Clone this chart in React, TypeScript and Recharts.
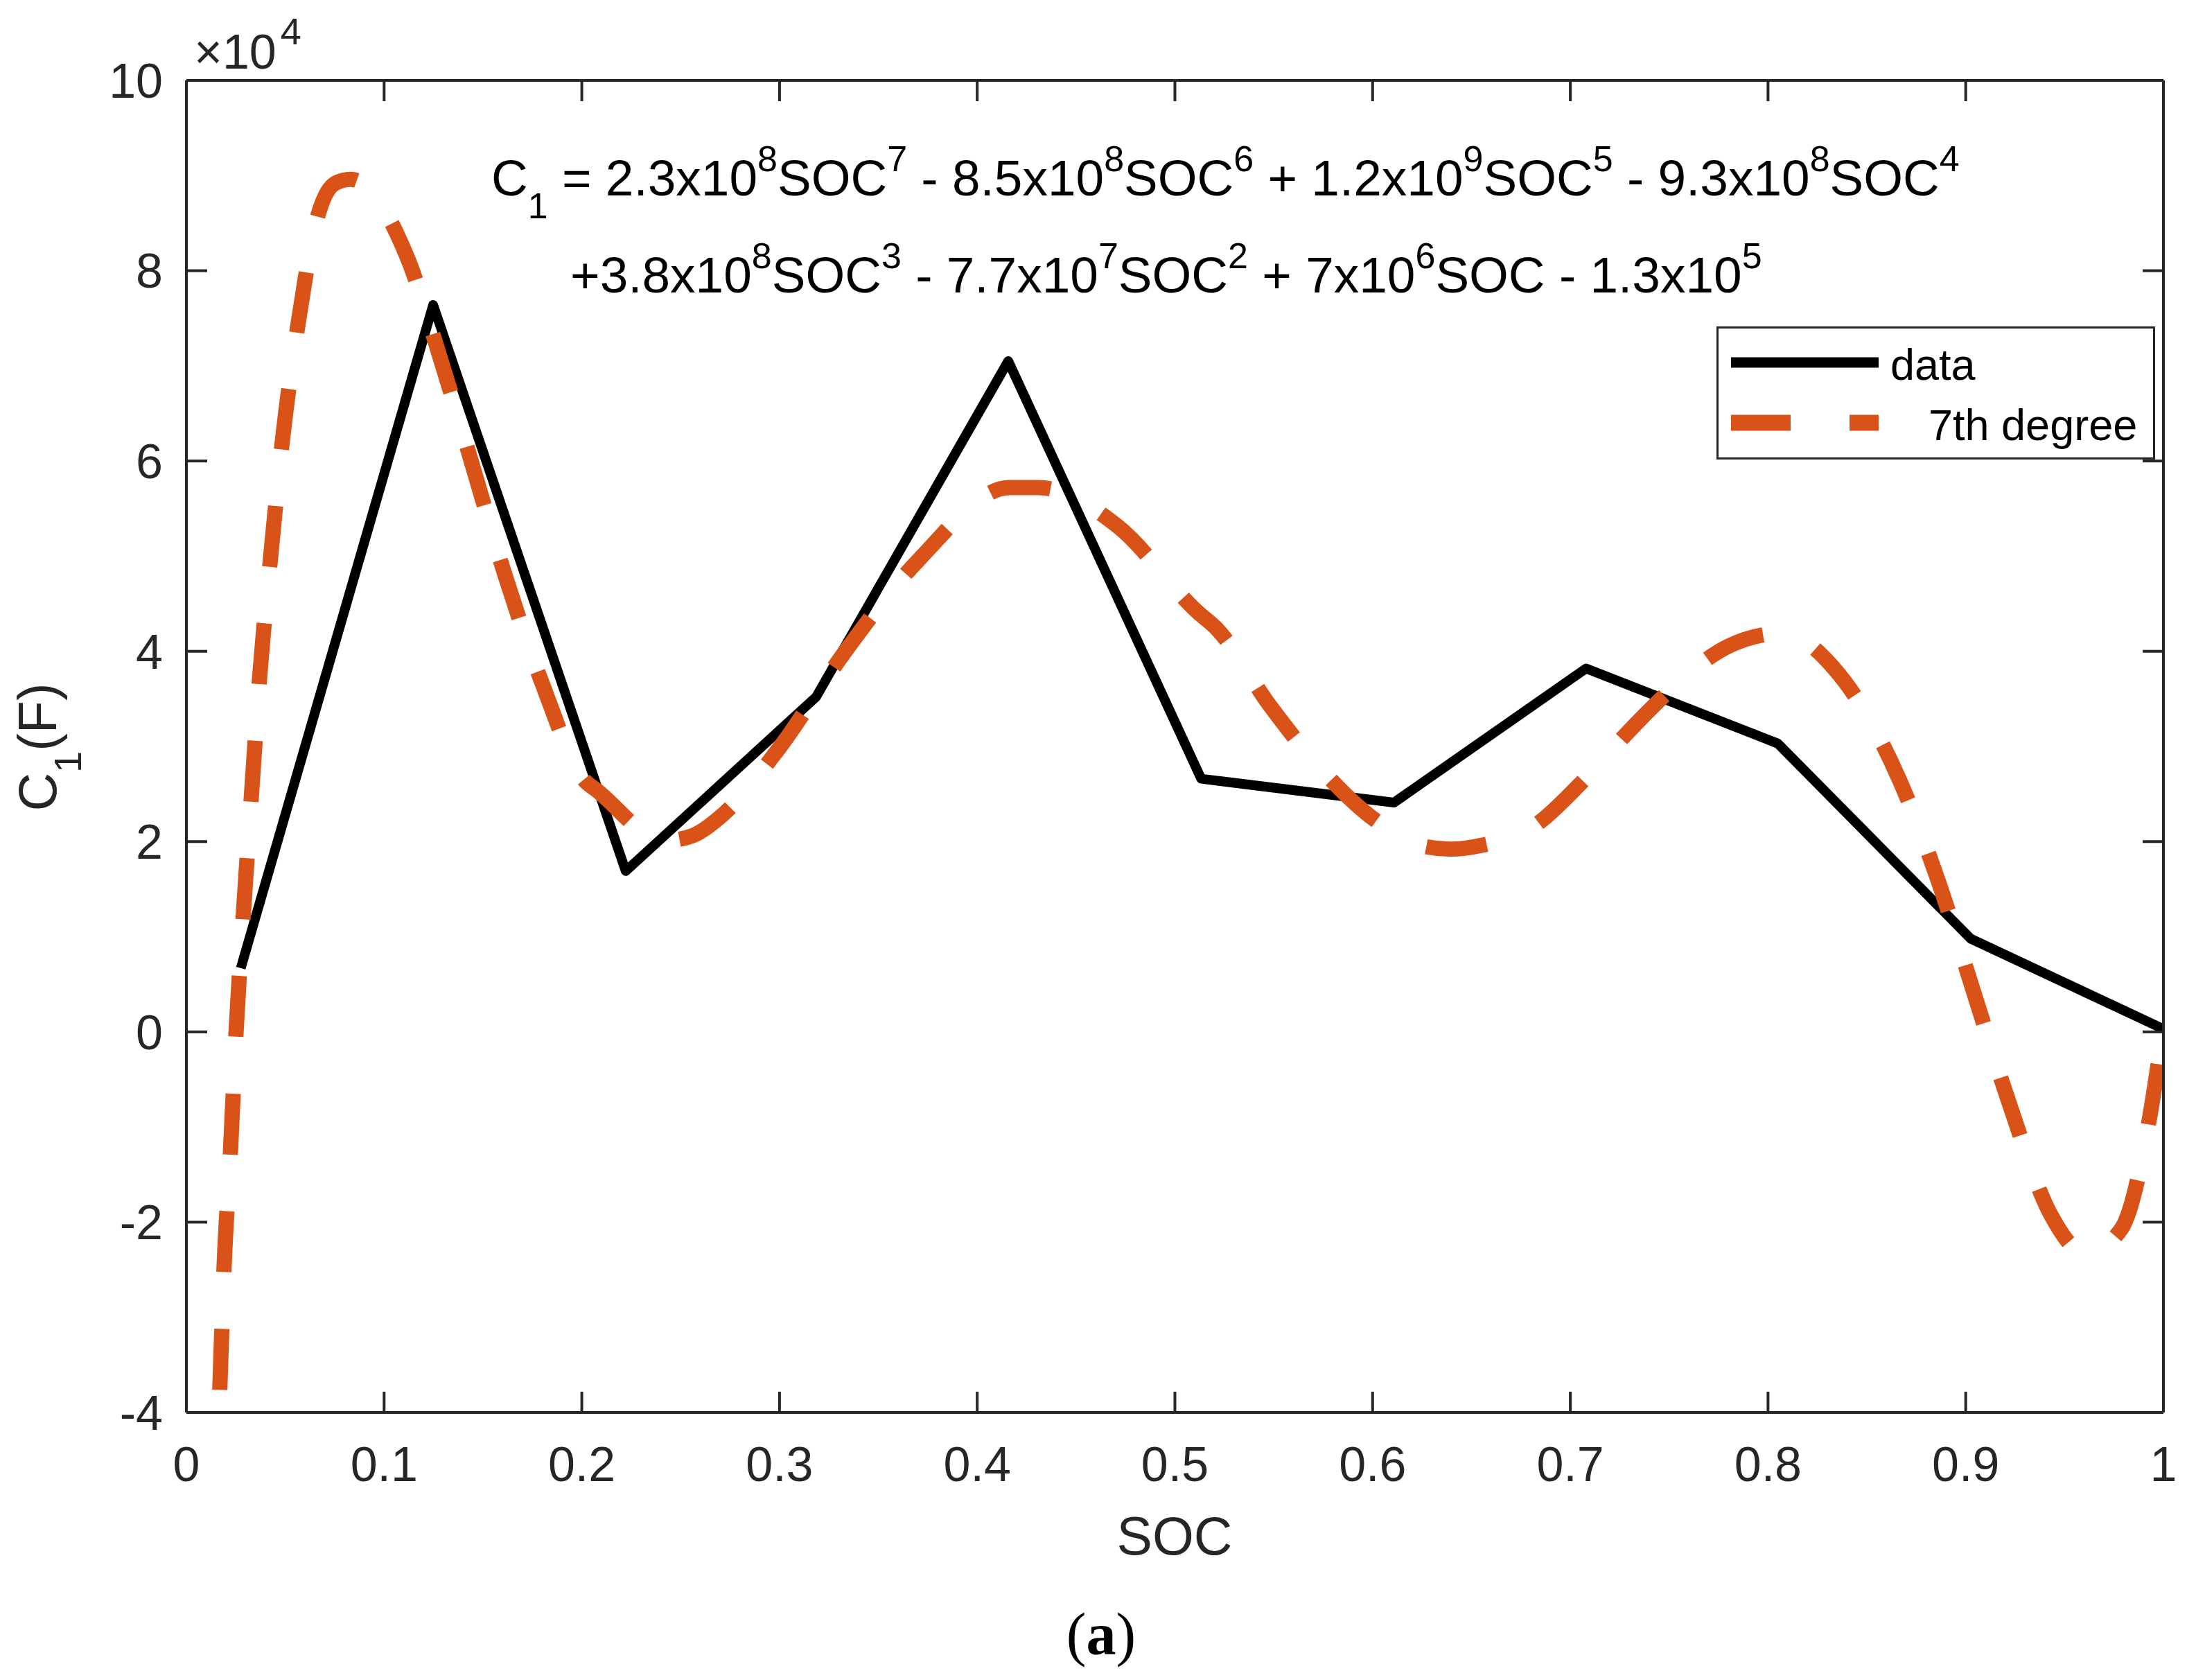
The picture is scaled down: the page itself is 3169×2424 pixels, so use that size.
import React from 'react';
import { LineChart, Line, XAxis, YAxis, Legend, Customized } from 'recharts';

// measured data (black, solid)
const dataSoc = [0.0275, 0.1248, 0.2222, 0.3185, 0.4157, 0.5133, 0.6108, 0.708, 0.805, 0.9025, 1.0];
const dataC1 = [6700, 76400, 16900, 35200, 70500, 26600, 24100, 38200, 30300, 9800, 300];

// 7th degree fit (orange, dashed)
const fitSoc = [
  0.0148, 0.0165, 0.0191, 0.0224, 0.0252, 0.0289, 0.033, 0.0372, 0.0426, 0.0487,
  0.0567, 0.066, 0.0754, 0.083, 0.092, 0.1062, 0.1125, 0.1265, 0.1439, 0.161,
  0.18, 0.2015, 0.2075, 0.2419, 0.2557, 0.2695, 0.299, 0.3326, 0.3708, 0.4164,
  0.431, 0.4707, 0.5116, 0.521, 0.548, 0.574, 0.601, 0.624, 0.6397, 0.655,
  0.68, 0.707, 0.7224, 0.7347, 0.7484, 0.7806, 0.8076, 0.833, 0.866, 0.8857,
  0.904, 0.922, 0.943, 0.9608, 0.9787, 0.9932, 1.0,
];
const fitC1 = [
  -50000, -39900, -24500, -12100, 300, 12700, 25200, 37700, 49900, 62400,
  74700, 85400, 89200, 89600, 88700, 84000, 81000, 72100, 60100, 48100,
  36600, 26400, 25400, 20100, 20600, 22500, 29600, 39800, 49700, 57200,
  57200, 53200, 44100, 42400, 34300, 27600, 22300, 19600, 19200, 19600,
  21400, 26500, 30000, 32700, 35500, 40600, 41900, 38300, 26700, 16100,
  4200, -7500, -19200, -23300, -20700, -8800, 500,
];

const xTicks = [0, 0.1, 0.2, 0.3, 0.4, 0.5, 0.6, 0.7, 0.8, 0.9, 1];
const yTicks = [-40000, -20000, 0, 20000, 40000, 60000, 80000, 100000];

// equation text: [text, 'sup' | 'sub' | undefined]
const eqLine1: [string, string?][] = [
  ['C'], ['1', 'sub'], [' = 2.3x10'], ['8', 'sup'], ['SOC'], ['7', 'sup'],
  [' - 8.5x10'], ['8', 'sup'], ['SOC'], ['6', 'sup'],
  [' + 1.2x10'], ['9', 'sup'], ['SOC'], ['5', 'sup'],
  [' - 9.3x10'], ['8', 'sup'], ['SOC'], ['4', 'sup'],
];
const eqLine2: [string, string?][] = [
  ['+3.8x10'], ['8', 'sup'], ['SOC'], ['3', 'sup'],
  [' - 7.7x10'], ['7', 'sup'], ['SOC'], ['2', 'sup'],
  [' + 7x10'], ['6', 'sup'], ['SOC'],
  [' - 1.3x10'], ['5', 'sup'],
];

const dataRows = dataSoc.map((s, i) => ({ soc: s, c1: dataC1[i] }));
const fitRows = fitSoc.map((s, i) => ({ soc: s, c1: fitC1[i] }));

const W = 3169;
const H = 2424;
const PLOT_L = 269;
const PLOT_R = 3122;
const PLOT_T = 116;
const PLOT_B = 2038;

const AXIS = '#262626';
const AXIS_W = 4;
const TICK_LEN = 30;
const X_MARGIN = 49;
const Y_MARGIN = 34;
const FONT = '"Liberation Sans", Arial, Helvetica, sans-serif';
const ORANGE = '#D95319';

const BottomTick = (props: any) => {
  const { x, y, payload } = props;
  const axisY = y - X_MARGIN;
  return (
    <g>
      <line x1={x} x2={x} y1={axisY} y2={axisY - TICK_LEN} stroke={AXIS} strokeWidth={AXIS_W} />
      <text x={x} y={y} dy="0.71em" textAnchor="middle" fontFamily={FONT} fontSize={70} fill={AXIS}>
        {String(payload.value)}
      </text>
    </g>
  );
};

const LeftTick = (props: any) => {
  const { x, y, payload } = props;
  const axisX = x + Y_MARGIN;
  return (
    <g>
      <line x1={axisX} x2={axisX + TICK_LEN} y1={y} y2={y} stroke={AXIS} strokeWidth={AXIS_W} />
      <text x={x} y={y} dy="0.355em" textAnchor="end" fontFamily={FONT} fontSize={70} fill={AXIS}>
        {String(payload.value / 10000)}
      </text>
    </g>
  );
};

const TopTick = (props: any) => {
  const { x, y } = props;
  return <line x1={x} x2={x} y1={y} y2={y + TICK_LEN} stroke={AXIS} strokeWidth={AXIS_W} />;
};

const RightTick = (props: any) => {
  const { x, y } = props;
  return <line x1={x} x2={x - TICK_LEN} y1={y} y2={y} stroke={AXIS} strokeWidth={AXIS_W} />;
};

const LegendBox = () => (
  <svg width={633} height={192} style={{ display: 'block' }}>
    <rect x={1.5} y={1.5} width={630} height={189} fill="#fff" stroke={AXIS} strokeWidth={3} />
    <line x1={21} x2={234} y1={52} y2={52} stroke="#000" strokeWidth={15} />
    <text x={251} y={77} fontFamily={FONT} fontSize={63} fill="#000">data</text>
    <line x1={21} x2={234} y1={139} y2={139} stroke={ORANGE} strokeWidth={23} strokeDasharray="86 85" />
    <text x={306} y={164} fontFamily={FONT} fontSize={63} fill="#000">7th degree</text>
  </svg>
);

const shiftOf = (kind?: string) => (kind === 'sup' ? -35 : kind === 'sub' ? 33 : 0);

const RichText = ({ parts, x, y, size }: { parts: [string, string?][]; x: number; y: number; size: number }) => {
  let cur = 0;
  return (
    <text x={x} y={y} fontSize={size} fill="#000" style={{ whiteSpace: 'pre' }}>
      {parts.map(([t, kind], i) => {
        const target = shiftOf(kind);
        const dy = target - cur;
        cur = target;
        return (
          <tspan key={i} dy={dy} fontSize={kind ? 52 : size}>
            {t}
          </tspan>
        );
      })}
    </text>
  );
};

const Annotations = () => (
  <g fontFamily={FONT}>
    <text x={280} y={99} fontSize={70} fill={AXIS}>
      ×10<tspan dx={6} dy={-35} fontSize={54}>4</tspan>
    </text>
    <RichText parts={eqLine1} x={709} y={282} size={73} />
    <RichText parts={eqLine2} x={823} y={422} size={73} />
    <text transform="translate(81,1078) rotate(-90)" textAnchor="middle" fontSize={77} fill={AXIS}>
      C<tspan dy={36} fontSize={56}>1</tspan>
      <tspan dy={-36}>(F)</tspan>
    </text>
    <text x={1695} y={2243} textAnchor="middle" fontSize={77} fill={AXIS}>SOC</text>
    <text x={1589} y={2387} textAnchor="middle" fontFamily='"Liberation Serif", "Times New Roman", serif' fontSize={86} fill="#000">
      (<tspan fontWeight="bold">a</tspan>)
    </text>
  </g>
);

export default function App() {
  return (
    <div style={{ position: 'absolute', left: 0, top: 0, width: W, height: H, background: '#fff' }}>
      <LineChart width={W} height={H} margin={{ top: 0, right: 0, bottom: 0, left: 0 }}>
        <XAxis
          xAxisId="bottom"
          dataKey="soc"
          type="number"
          domain={[0, 1]}
          allowDataOverflow
          ticks={xTicks}
          height={H - PLOT_B}
          tickSize={0}
          tickMargin={X_MARGIN}
          tick={<BottomTick />}
          tickLine={false}
          axisLine={{ stroke: AXIS, strokeWidth: AXIS_W }}
          interval={0}
        />
        <XAxis
          xAxisId="top"
          orientation="top"
          dataKey="soc"
          type="number"
          domain={[0, 1]}
          allowDataOverflow
          ticks={xTicks}
          height={PLOT_T}
          tickSize={0}
          tickMargin={0}
          tick={<TopTick />}
          tickLine={false}
          axisLine={{ stroke: AXIS, strokeWidth: AXIS_W }}
          interval={0}
        />
        <YAxis
          yAxisId="left"
          type="number"
          domain={[-40000, 100000]}
          allowDataOverflow
          ticks={yTicks}
          width={PLOT_L}
          tickSize={0}
          tickMargin={Y_MARGIN}
          tick={<LeftTick />}
          tickLine={false}
          axisLine={{ stroke: AXIS, strokeWidth: AXIS_W }}
          interval={0}
        />
        <YAxis
          yAxisId="right"
          orientation="right"
          type="number"
          domain={[-40000, 100000]}
          allowDataOverflow
          ticks={yTicks}
          width={W - PLOT_R}
          tickSize={0}
          tickMargin={0}
          tick={<RightTick />}
          tickLine={false}
          axisLine={{ stroke: AXIS, strokeWidth: AXIS_W }}
          interval={0}
        />
        <Line
          xAxisId="bottom"
          yAxisId="left"
          data={dataRows}
          dataKey="c1"
          name="data"
          type="linear"
          stroke="#000"
          strokeWidth={14}
          strokeLinejoin="round"
          dot={false}
          activeDot={false}
          isAnimationActive={false}
        />
        <Line
          xAxisId="bottom"
          yAxisId="left"
          data={fitRows}
          dataKey="c1"
          name="7th degree"
          type="monotone"
          stroke={ORANGE}
          strokeWidth={22}
          strokeDasharray="88 82"
          dot={false}
          activeDot={false}
          isAnimationActive={false}
        />
        <Legend
          layout="horizontal"
          verticalAlign="middle"
          align="center"
          content={() => <LegendBox />}
          wrapperStyle={{ left: 2477, top: 471, width: 633, height: 192 }}
        />
        <Customized component={<Annotations />} />
      </LineChart>
    </div>
  );
}
